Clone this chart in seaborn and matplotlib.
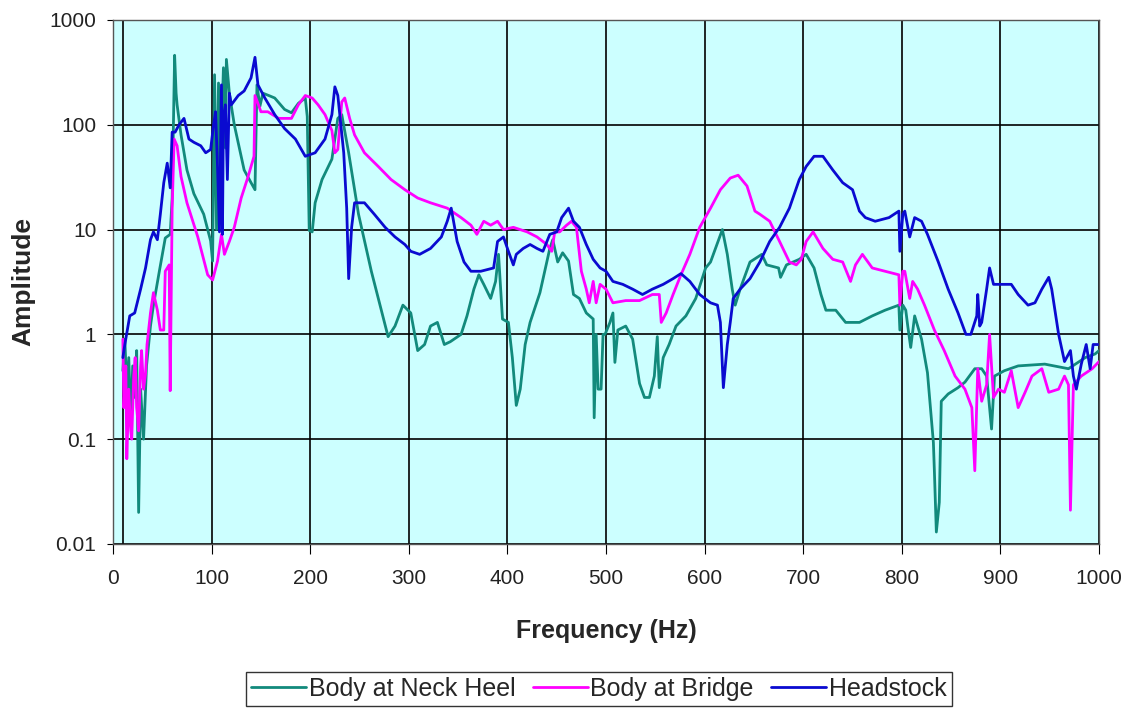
import numpy as np
import pandas as pd
import matplotlib
matplotlib.use("Agg")
import matplotlib.pyplot as plt
import seaborn as sns
from matplotlib.ticker import FixedLocator, FixedFormatter

# Body at Neck Heel
heel_freq = [10, 12, 14, 16, 18, 20, 22, 24, 26, 28, 31, 34, 38, 41, 47, 53, 58, 60, 62.5, 64,
             65, 69, 75, 82, 92, 99, 101, 103, 105, 107, 109, 112, 114, 115, 118, 123, 133, 140, 144, 146,
             149, 152, 158, 164, 174, 181, 188, 195, 197, 199, 202, 205, 212, 222, 228, 232, 239, 249, 262, 279,
             286, 294, 302, 309, 316, 322, 329, 336, 342, 353, 359, 366, 371, 376, 383, 388, 391, 395, 401, 405,
             409, 413, 418, 423, 433, 443, 446, 451, 456, 462, 467, 473, 480, 487, 488, 490, 492, 495, 497, 499,
             504, 507, 509, 512, 520, 527, 534, 539, 544, 549, 552, 554, 558, 564, 571, 581, 591, 601, 606, 618,
             623, 628, 631, 636, 646, 658, 663, 675, 677, 683, 696, 703, 711, 718, 723, 733, 743, 757, 770, 783,
             797, 798, 801, 804, 806, 809, 813, 820, 826, 832, 833, 835, 838, 840, 847, 857, 864, 874, 881, 886,
             891, 894, 904, 918, 945, 969, 986, 996, 1000]
heel_amp = [0.45, 0.9, 0.3, 0.6, 0.15, 0.5, 0.25, 0.7, 0.02, 0.3, 0.1, 0.5, 1.2, 1.9, 4, 8.3, 9, 20, 460, 200,
            155, 80, 37, 22, 14, 7.8, 5, 300, 10, 250, 40, 350, 60, 420, 200, 100, 37, 28, 24, 240,
            150, 200, 190, 180, 140, 130, 160, 180, 120, 9.8, 9.5, 18, 30, 47, 115, 125, 54, 14, 4, 0.95,
            1.2, 1.9, 1.6, 0.7, 0.8, 1.2, 1.3, 0.8, 0.85, 1.0, 1.5, 2.7, 3.7, 3, 2.2, 3.2, 5.8, 1.4, 1.3, 0.6,
            0.21, 0.3, 0.8, 1.3, 2.5, 6.6, 8, 4.9, 6, 5, 2.4, 2.2, 1.6, 1.4, 0.16, 1.0, 0.3, 0.3, 1.0, 1.0,
            1.3, 1.6, 0.54, 1.1, 1.2, 0.9, 0.34, 0.25, 0.25, 0.4, 0.95, 0.31, 0.6, 0.8, 1.2, 1.5, 2.2, 4.3, 4.9, 10,
            5.8, 2.7, 1.9, 2.7, 4.9, 5.8, 4.6, 4.3, 3.5, 4.6, 5.2, 5.8, 4.3, 2.4, 1.7, 1.7, 1.3, 1.3, 1.5, 1.7,
            1.9, 1.1, 1.9, 1.7, 1.2, 0.75, 1.5, 0.9, 0.43, 0.093, 0.05, 0.013, 0.025, 0.23, 0.27, 0.31, 0.35, 0.47, 0.47, 0.4,
            0.125, 0.4, 0.45, 0.5, 0.52, 0.47, 0.6, 0.65, 0.7]

# Body at Bridge
bridge_freq = [10, 11, 13, 14, 16, 18, 19, 21, 22.5, 24, 26, 28, 29, 31, 33, 34.5, 38, 41, 45, 48,
               51.5, 53, 57, 58, 60, 62, 65, 69, 75, 86, 96, 101, 106, 110, 113, 118, 123, 130, 137, 143,
               144, 147, 150, 157, 168, 181, 188, 195, 202, 208, 215, 222, 225, 228, 232, 235, 240, 245, 255, 269,
               282, 296, 309, 322, 339, 353, 363, 369, 376, 383, 390, 396, 406, 420, 430, 440, 445, 448, 453, 460,
               465, 470, 475, 480, 483, 487, 490, 494, 500, 507, 520, 534, 547, 554, 556, 561, 568, 576, 585, 595,
               606, 616, 626, 634, 643, 651, 656, 666, 676, 686, 693, 698, 703, 710, 720, 730, 740, 748, 753, 760,
               770, 783, 797, 798, 801, 803, 808, 811, 816, 823, 833, 843, 854, 864, 871, 874, 877, 881, 886, 889,
               893, 898, 904, 911, 918, 925, 932, 942, 949, 959, 965, 969, 971, 974, 982, 993, 1000]
bridge_amp = [0.9, 0.2, 0.5, 0.065, 0.3, 0.12, 0.1, 0.4, 0.6, 0.2, 0.12, 0.5, 0.7, 0.3, 0.42, 0.8, 1.6, 2.5, 1.7, 1.1,
              1.1, 4, 4.6, 0.29, 16, 73, 63, 32, 18, 8.5, 3.7, 3.3, 5, 9, 5.8, 7.7, 10.5, 20, 32, 50,
              190, 160, 133, 133, 115, 115, 155, 190, 180, 155, 125, 88, 54, 58, 165, 180, 115, 80, 54, 40,
              30, 24, 20, 18, 16, 13, 11, 9, 12, 11, 12, 10, 10.5, 9.5, 8.5, 7.2, 6.2, 9.5, 9.5, 11,
              12, 10.5, 4, 2.7, 2, 3.2, 2, 3, 2.7, 2, 2.1, 2.1, 2.4, 2.4, 1.3, 1.6, 2.4, 3.7, 5.8, 10.5,
              16, 24, 31, 33, 26, 15, 14, 12, 7.7, 4.9, 4.6, 5.2, 7.7, 9.5, 6.6, 5.2, 4.9, 3.2, 4.6, 5.8,
              4.3, 4, 3.7, 1.9, 4, 4, 2.2, 3.2, 2.7, 1.9, 1.1, 0.7, 0.4, 0.3, 0.2, 0.05, 0.47, 0.23, 0.33, 1.0,
              0.25, 0.3, 0.28, 0.45, 0.2, 0.28, 0.4, 0.47, 0.28, 0.3, 0.4, 0.33, 0.021, 0.33, 0.4, 0.47, 0.55]

# Headstock
head_freq = [10, 12, 17, 22, 28, 33, 38, 41, 45, 48, 51.5, 55, 58, 60, 63, 67, 72, 77, 82, 89,
             94, 99, 102, 104, 106, 108, 110, 111, 112, 114, 116, 118, 120, 127, 133, 140, 144, 147, 154, 164,
             174, 185, 195, 205, 215, 222, 225, 228, 234, 237, 239, 242, 245, 255, 265, 276, 286, 296, 302, 311,
             322, 333, 339, 343, 349, 356, 363, 373, 386, 390, 396, 401, 406, 409, 416, 423, 430, 436, 443, 450,
             455, 462, 467, 473, 480, 487, 494, 500, 507, 517, 527, 537, 547, 558, 568, 576, 585, 595, 606, 613,
             616, 619, 623, 626, 629, 636, 646, 656, 666, 676, 686, 696, 703, 711, 720, 730, 740, 750, 757, 763,
             773, 787, 797, 798, 801, 803, 808, 813, 820, 826, 837, 847, 857, 865, 870, 876, 877, 879, 881, 886,
             889, 893, 901, 911, 918, 928, 935, 942, 949, 952, 959, 965, 971, 974, 977, 982, 987, 991, 994, 1000]
head_amp = [0.6, 0.8, 1.5, 1.6, 2.7, 4.3, 8, 9.5, 8, 14, 28, 43, 25, 85, 85, 100, 115, 73, 68, 63,
            54, 58, 100, 133, 40, 9.5, 240, 9, 120, 155, 30, 200, 155, 190, 210, 280, 440, 240, 180, 125,
            92, 73, 50, 54, 73, 125, 230, 190, 54, 16, 3.4, 10.5, 18, 18, 14, 10.5, 8.5, 7.2, 6.2, 5.8,
            6.6, 8.5, 12, 16, 7.7, 4.9, 4, 4, 4.3, 7.7, 8.5, 6.2, 4.6, 5.8, 6.6, 7.2, 6.6, 6.2, 9, 9.5,
            13, 16, 12, 10.5, 7.2, 5.2, 4.3, 4, 3.2, 3, 2.7, 2.4, 2.7, 3, 3.4, 3.8, 3.2, 2.4, 2.0, 1.9,
            1.3, 0.31, 0.8, 1.3, 2.2, 2.7, 3.4, 4.9, 7.7, 10.5, 16, 30, 40, 50, 50, 37, 28, 24, 15, 13,
            12, 13, 15, 6.2, 14, 15, 8.5, 13, 12, 9, 4.9, 2.7, 1.6, 1.0, 1.0, 1.5, 2.4, 1.2, 1.3, 2.7,
            4.3, 3, 3, 3, 2.4, 1.9, 2.0, 2.7, 3.5, 2.7, 1.0, 0.55, 0.7, 0.4, 0.3, 0.52, 0.8, 0.47, 0.8, 0.8]

series_names = ["Body at Neck Heel", "Body at Bridge", "Headstock"]
colors = ["#128a7c", "#ff00ff", "#0a0ad0"]

y_ticks = [0.01, 0.1, 1, 10, 100, 1000]
y_labels = ["0.01", "0.1", "1", "10", "100", "1000"]
x_ticks = list(range(0, 1001, 100))

df = pd.concat([
    pd.DataFrame({"Frequency": heel_freq, "Amplitude": heel_amp, "Location": series_names[0]}),
    pd.DataFrame({"Frequency": bridge_freq, "Amplitude": bridge_amp, "Location": series_names[1]}),
    pd.DataFrame({"Frequency": head_freq, "Amplitude": head_amp, "Location": series_names[2]}),
], ignore_index=True)

sns.set_style("white")
plt.rcParams["font.family"] = ["Liberation Sans", "DejaVu Sans"]

fig = plt.figure(figsize=(11.3, 7.12), dpi=100)
ax = fig.add_axes([0.1, 0.236, 0.8726, 0.736])
ax.set_facecolor("#ccffff")

sns.lineplot(data=df, x="Frequency", y="Amplitude", hue="Location", hue_order=series_names,
             palette=colors, estimator=None, sort=False, linewidth=2, ax=ax, legend=True)

ax.set_yscale("log")
ax.set_xlim(0, 1000)
ax.set_ylim(0.01, 1000)
ax.xaxis.set_major_locator(FixedLocator(x_ticks))
ax.yaxis.set_major_locator(FixedLocator(y_ticks))
ax.yaxis.set_major_formatter(FixedFormatter(y_labels))
ax.yaxis.set_minor_locator(FixedLocator([]))
ax.grid(True, color="black", linewidth=1.2)
ax.set_axisbelow(True)
ax.axvline(10, color="black", linewidth=1.2, zorder=1)
for s in ax.spines.values():
    s.set_color("#555555")
    s.set_linewidth(1)
ax.tick_params(axis="x", length=7, color="black", direction="out", bottom=True, pad=11,
               labelsize=15, labelcolor="#222222")
ax.tick_params(axis="y", length=4, color="black", direction="out", left=True, pad=8,
               labelsize=15, labelcolor="#222222")

ax.set_xlabel("Frequency (Hz)", fontsize=18, fontweight="bold", va="top")
ax.xaxis.set_label_coords(0.5, -0.143)
ax.set_ylabel("Amplitude", fontsize=19, fontweight="bold")
ax.yaxis.set_label_coords(-0.079, 0.5)

handles, labels = ax.get_legend_handles_labels()
ax.get_legend().remove()
leg = fig.legend(handles, labels, loc="lower center", bbox_to_anchor=(0.53, 0.009), ncol=3,
                 fontsize=18, frameon=True, fancybox=False, edgecolor="black", borderaxespad=0,
                 handlelength=2.2, handletextpad=0.1, columnspacing=0.7, borderpad=0.2)
leg.get_frame().set_linewidth(1)

fig.savefig("out.png", dpi=100, facecolor="white")
